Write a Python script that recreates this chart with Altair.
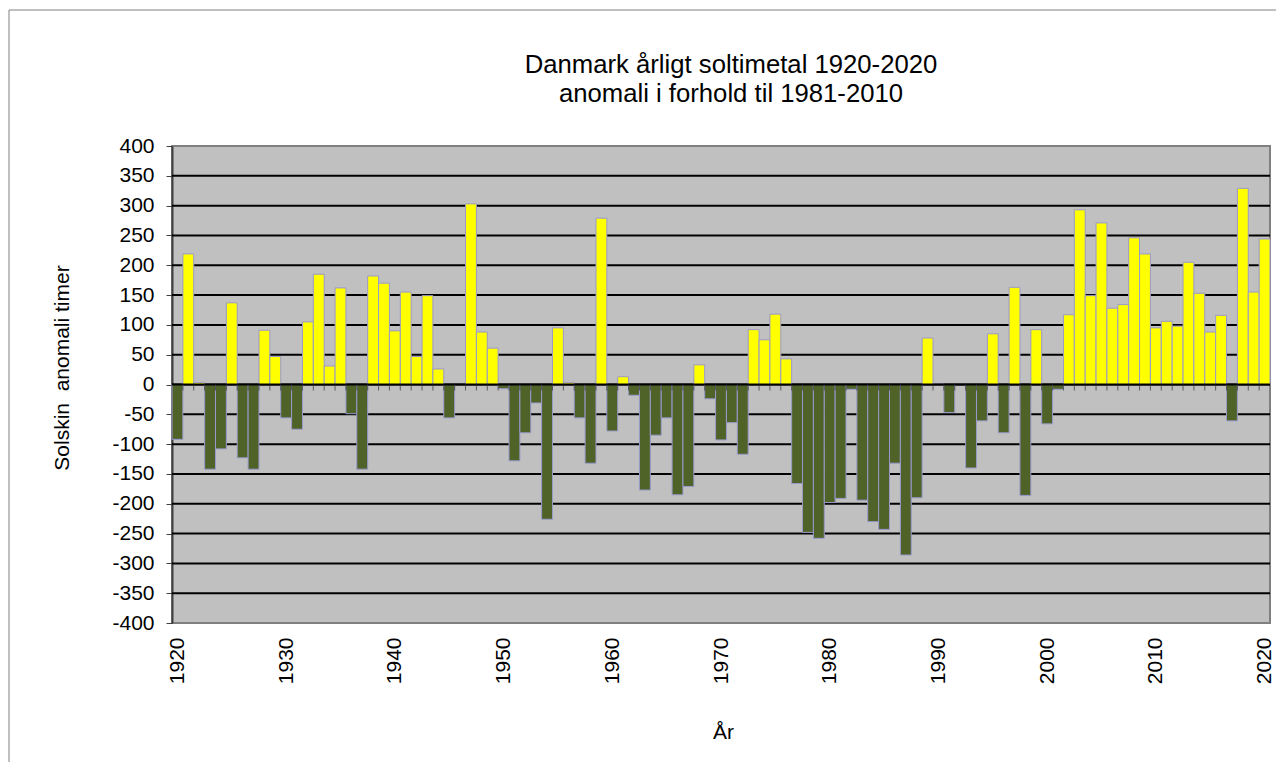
import altair as alt
import pandas as pd

# ---- data ----
years = list(range(1920, 2021))
anomaly = [
    -92, 219, 3, -142, -108, 137, -123, -142, 91, 47,        # 1920-1929
    -56, -75, 105, 185, 31, 162, -49, -142, 182, 170,        # 1930-1939
    90, 155, 47, 149, 26, -56, 0, 303, 88, 61,               # 1940-1949
    -7, -128, -81, -31, -226, 95, 3, -56, -132, 279,         # 1950-1959
    -78, 13, -18, -177, -85, -56, -185, -171, 33, -24,       # 1960-1969
    -93, -64, -117, 92, 75, 118, 43, -166, -248, -258,       # 1970-1979
    -198, -191, -8, -194, -230, -243, -132, -286, -190, 78,  # 1980-1989
    1, -47, 0, -140, -61, 85, -81, 163, -186, 92,            # 1990-1999
    -66, -8, 117, 293, 149, 271, 128, 134, 246, 219,         # 2000-2009
    95, 106, 98, 205, 153, 88, 116, -61, 329, 155,           # 2010-2019
    244,                                                     # 2020
]
assert len(anomaly) == len(years)

y_ticks = list(range(-400, 401, 50))
x_label_years = list(range(1920, 2021, 10))

title_lines = ["Danmark årligt soltimetal 1920-2020", "anomali i forhold til 1981-2010"]
y_title = "Solskin\u00a0 anomali timer"
x_title = "År"

FONT = "Liberation Sans"

df = pd.DataFrame({"year": years, "value": anomaly})
grid_df = pd.DataFrame({"g": y_ticks[1:-1]})
bound_df = pd.DataFrame({"b": [y + 0.5 for y in years[:-1]]})
one_df = pd.DataFrame({"a": [0]})

x_scale = alt.Scale(domain=[years[0] - 0.5, years[-1] + 0.5], nice=False, zero=False)
y_scale = alt.Scale(domain=[y_ticks[0], y_ticks[-1]], nice=False)

x_axis = alt.Axis(
    values=x_label_years,
    format="d",
    labelAngle=270,
    labelFont=FONT,
    labelFontSize=21,
    labelColor="black",
    labelPadding=14,
    labelOverlap=False,
    ticks=False,
    domain=False,
    grid=False,
    title=x_title,
    titleFont=FONT,
    titleFontSize=21,
    titleFontWeight="normal",
    titleColor="black",
    titleX=551,
    titleY=115,
    titleBaseline="alphabetic",
)

y_axis = alt.Axis(
    values=y_ticks,
    tickCount=len(y_ticks),
    labelExpr="'' + datum.value",
    labelFont=FONT,
    labelFontSize=21,
    labelColor="black",
    labelPadding=12,
    labelOverlap=False,
    labelFlush=False,
    tickSize=6,
    tickColor="#404040",
    tickWidth=1,
    domainColor="#404040",
    domainWidth=2,
    grid=False,
    title=y_title,
    titleFont=FONT,
    titleFontSize=21,
    titleFontWeight="normal",
    titleColor="black",
    titleAngle=270,
    titleX=-104,
    titleY=221.5,
    titleBaseline="alphabetic",
    titleAlign="center",
)

gridlines = (
    alt.Chart(grid_df)
    .mark_rule(color="black", strokeWidth=2)
    .encode(y=alt.Y("g:Q", scale=y_scale, axis=y_axis))
)

bars = (
    alt.Chart(df)
    .transform_calculate(x0="datum.year - 0.5", x1="datum.year + 0.5")
    .mark_bar(stroke="#9999CC", strokeWidth=1)
    .encode(
        x=alt.X("x0:Q", scale=x_scale, axis=x_axis),
        x2="x1:Q",
        y=alt.Y("value:Q", scale=y_scale, axis=y_axis),
        y2=alt.Y2(datum=0),
        color=alt.condition(
            "datum.value >= 0", alt.value("#FFFF00"), alt.value("#4F6228")
        ),
    )
)

zero_line = (
    alt.Chart(one_df)
    .mark_rule(color="black", strokeWidth=2)
    .encode(y=alt.Y(datum=0, scale=y_scale, axis=y_axis))
)

zero_ticks = (
    alt.Chart(bound_df)
    .mark_tick(orient="vertical", size=6, thickness=1, color="#333333", yOffset=3)
    .encode(
        x=alt.X("b:Q", scale=x_scale, axis=x_axis),
        y=alt.Y(datum=0, scale=y_scale, axis=y_axis),
    )
)

frame = (
    alt.Chart(one_df)
    .mark_rect(fillOpacity=0, stroke="#808080", strokeWidth=1)
    .encode(
        x=alt.value(-163),
        y=alt.value(-136),
        x2=alt.value(1400),
        y2=alt.value(900),
    )
)

chart = (
    alt.layer(gridlines, bars, zero_line, zero_ticks, frame)
    .properties(
        width=1098,
        height=477,
        autosize=alt.AutoSizeParams(type="none"),
        padding={"left": 164, "top": 138, "right": 6, "bottom": 139},
        title=alt.TitleParams(
            text=title_lines,
            font=FONT,
            fontSize=25.7,
            fontWeight="normal",
            color="black",
            anchor="middle",
            dx=10,
            lineHeight=29,
            offset=-98.5,
        ),
        background="white",
    )
    .configure_view(fill="#C0C0C0", stroke="#808080", strokeWidth=2)
)

chart.save("out.html", embed_options={"renderer": "svg", "actions": False})
